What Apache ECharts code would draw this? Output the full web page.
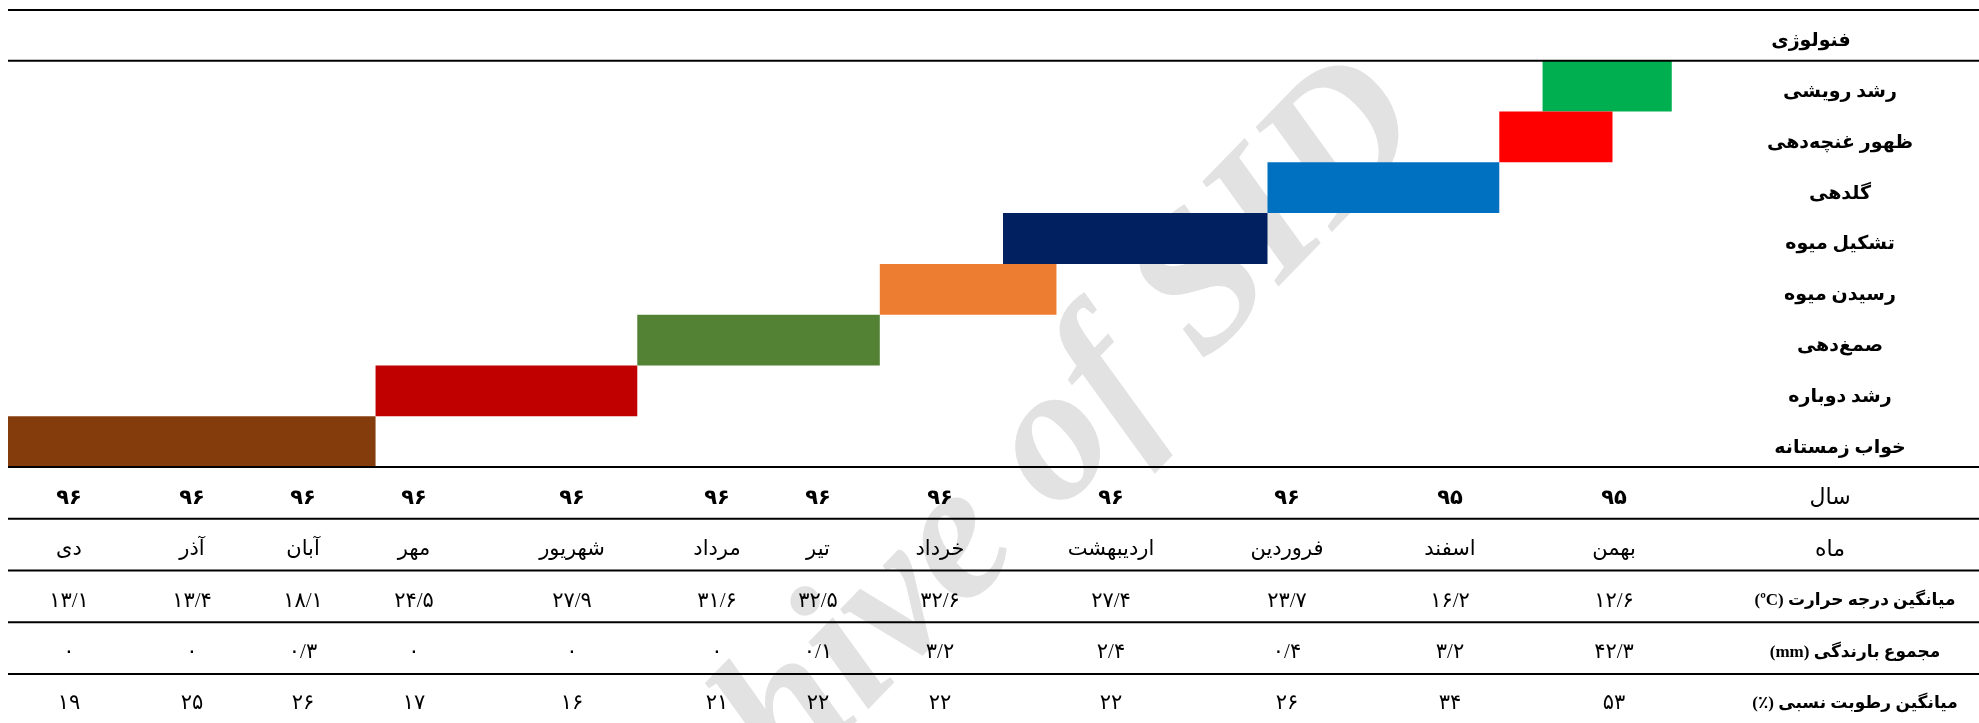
<!DOCTYPE html>
<html>
<head>
<meta charset="utf-8">
<script src="https://cdn.jsdelivr.net/npm/echarts@6/dist/echarts.min.js"></script>
<style>
html,body{margin:0;padding:0;background:#fff;}
#c{width:1979px;height:723px;direction:rtl;}
</style>
</head>
<body>
<div id="c"></div>
<script>
// ---------------- DATA ----------------
// Months in time order (right-most column first)
const months = ['بهمن','اسفند','فروردین','اردیبهشت','خرداد','تیر','مرداد','شهریور','مهر','آبان','آذر','دی'];
const years = [95,95,96,96,96,96,96,96,96,96,96,96];
const tempC = [12.6,16.2,23.7,27.4,32.6,32.5,31.6,27.9,24.5,18.1,13.4,13.1];
const rainMm = [42.3,3.2,0.4,2.4,3.2,0.1,0,0,0,0.3,0,0];
const humidity = [53,34,26,22,22,22,21,16,17,26,25,19];
const tableRowLabels = ['سال','ماه','میانگین درجه حرارت (ºC)','مجموع بارندگی (mm)','میانگین رطوبت نسبی (٪)'];

// Phenology stages (top to bottom); start / end in months counted from the start of بهمن ۹۵
const phenologyHeader = 'فنولوژی';
const stages = ['رشد رویشی','ظهور غنچه‌دهی','گلدهی','تشکیل میوه','رسیدن میوه','صمغ‌دهی','رشد دوباره','خواب زمستانه'];
const stageStart = [0.12, 0.51, 1.22, 2.63, 3.77, 4.93, 7.16, 8.81];
const stageEnd   = [0.97, 1.22, 2.63, 4.05, 4.93, 7.16, 8.81, 12.00];

// ---------------- LAYOUT & STYLE ----------------
const LAYOUT = {
  left: 8,
  labelCol: 289,
  colWidths: [152,176,150,202,140,104,98,192,124,98,124,122],
  top: 10,
  phenRowH: 50.78,
  tableTop: 467,
  tableRowH: 51.75,
  labelMargin: 150,
  textDy: 6
};
const STAGE_COLORS = ['#00B050','#FF0000','#0070C0','#002060','#ED7D31','#548235','#C00000','#843C0C'];
const FONT_FAMILY = "'Liberation Serif','DejaVu Sans',serif";
const FS_LABEL = 19, FS_CELL = 21;

// ---------------- HELPERS ----------------
const totalW = LAYOUT.colWidths.reduce((a,b)=>a+b,0);
function toAxis(t){
  let v = 0;
  for (let i=0;i<LAYOUT.colWidths.length;i++){
    const w = LAYOUT.colWidths[i];
    if (t >= i+1){ v += w; }
    else { v += Math.max(0, t - i) * w; break; }
  }
  return v;
}
const faDigits = '۰۱۲۳۴۵۶۷۸۹';
function fa(n){
  return String(n).replace(/\./g,'/').replace(/[0-9]/g, d => faDigits[+d]);
}

// table cells
const tableRows = [
  {vals: years.map(fa), bold: true},
  {vals: months, bold: false},
  {vals: tempC.map(fa), bold: false},
  {vals: rainMm.map(fa), bold: false},
  {vals: humidity.map(fa), bold: false}
];
const cells = [];
tableRows.forEach((row, r) => {
  row.vals.forEach((txt, i) => {
    cells.push({value: [toAxis(i + 0.5), r], text: txt, bold: row.bold});
  });
});

const barData = stages.map((s, i) => [toAxis(stageStart[i]), toAxis(stageEnd[i]), i + 1]);

// ---------------- CHART ----------------
const chart = echarts.init(document.getElementById('c'), null, {renderer: 'canvas'});

const phenCats = [phenologyHeader].concat(stages);

const lineYs = [LAYOUT.top, LAYOUT.top + LAYOUT.phenRowH];
for (let k=0;k<=tableRows.length;k++) lineYs.push(LAYOUT.tableTop + k*LAYOUT.tableRowH);

const graphics = [
  {
    type: 'text', x: 972, y: 530, rotation: 0.80, z: -10, silent: true,
    style: {text: 'Archive of SID', font: "italic bold 195px 'Liberation Serif'", fill: '#e2e2e2', align: 'center', verticalAlign: 'middle'}
  }
].concat(lineYs.map(y => ({
  type: 'line', z: 100, silent: true,
  shape: {x1: LAYOUT.left, y1: y, x2: 1979, y2: y},
  style: {stroke: '#000', lineWidth: 2}
})));

const dy2 = LAYOUT.textDy * 2;

chart.setOption({
  animation: false,
  backgroundColor: '#fff',
  textStyle: {fontFamily: FONT_FAMILY},
  grid: [
    {left: LAYOUT.left, right: LAYOUT.labelCol, top: LAYOUT.top, height: LAYOUT.phenRowH * phenCats.length},
    {left: LAYOUT.left, right: LAYOUT.labelCol, top: LAYOUT.tableTop, height: LAYOUT.tableRowH * tableRows.length}
  ],
  xAxis: [
    {gridIndex: 0, type: 'value', min: 0, max: totalW, inverse: true, show: false},
    {gridIndex: 1, type: 'value', min: 0, max: totalW, inverse: true, show: false}
  ],
  yAxis: [
    {
      gridIndex: 0, type: 'category', data: phenCats, inverse: true, position: 'right',
      axisLine: {show: false}, axisTick: {show: false}, splitLine: {show: false},
      axisLabel: {
        margin: LAYOUT.labelMargin, align: 'center', color: '#000',
        formatter: (v, idx) => idx === 0 ? '{h|' + v + '}' : '{s|' + v + '}',
        rich: {
          h: {fontFamily: FONT_FAMILY, fontSize: FS_LABEL, fontWeight: 'bold', color: '#000', padding: [dy2, 58, 0, 0]},
          s: {fontFamily: FONT_FAMILY, fontSize: FS_LABEL, fontWeight: 'bold', color: '#000', padding: [dy2, 0, 0, 0]}
        }
      }
    },
    {
      gridIndex: 1, type: 'category', data: tableRowLabels, inverse: true, position: 'right',
      axisLine: {show: false}, axisTick: {show: false}, splitLine: {show: false},
      axisLabel: {
        margin: LAYOUT.labelMargin, align: 'center', color: '#000',
        formatter: (v, idx) => idx < 2 ? '{n|' + v + '}' : '{b|' + v + '}',
        rich: {
          n: {fontFamily: FONT_FAMILY, fontSize: 22, fontWeight: 'normal', color: '#000', padding: [dy2, 20, 0, 0]},
          b: {fontFamily: FONT_FAMILY, fontSize: 17, fontWeight: 'bold', color: '#000', padding: [dy2, 0, 0, 30]}
        }
      }
    }
  ],
  graphic: graphics,
  series: [
    {
      type: 'custom', xAxisIndex: 0, yAxisIndex: 0, z: 5,
      encode: {x: [0, 1], y: 2},
      data: barData,
      renderItem: function(params, api){
        const a = api.coord([api.value(0), api.value(2)]);
        const b = api.coord([api.value(1), api.value(2)]);
        const h = api.size([0, 1])[1];
        return {
          type: 'rect',
          shape: {x: Math.min(a[0], b[0]), y: a[1] - h/2, width: Math.abs(a[0] - b[0]), height: h},
          style: {fill: STAGE_COLORS[params.dataIndex]}
        };
      }
    },
    {
      type: 'custom', xAxisIndex: 1, yAxisIndex: 1, z: 5,
      encode: {x: 0, y: 1},
      data: cells,
      renderItem: function(params, api){
        const p = api.coord([api.value(0), api.value(1)]);
        const c = cells[params.dataIndex];
        return {
          type: 'text',
          x: p[0], y: p[1] + LAYOUT.textDy,
          style: {
            text: c.text,
            fill: '#000',
            font: (c.bold ? 'bold ' : '') + FS_CELL + 'px ' + FONT_FAMILY,
            align: 'center', verticalAlign: 'middle'
          }
        };
      }
    }
  ]
});
</script>
</body>
</html>
